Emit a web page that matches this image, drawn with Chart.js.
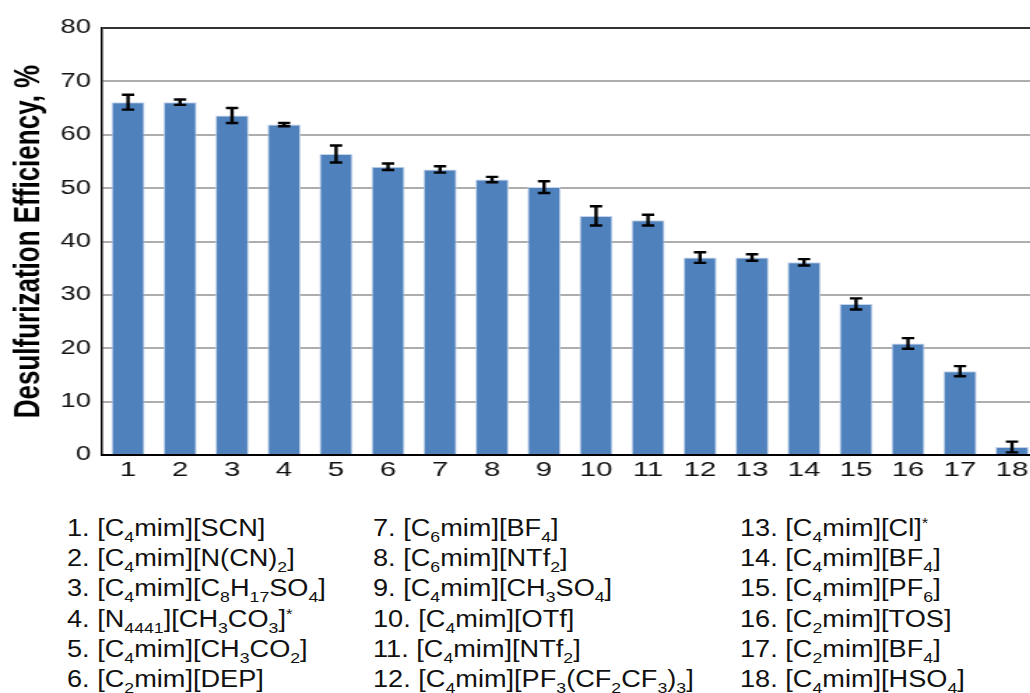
<!DOCTYPE html>
<html>
<head>
<meta charset="utf-8">
<script src="https://cdn.jsdelivr.net/npm/chart.js@4/dist/chart.umd.min.js"></script>
<style>
  html, body { margin: 0; padding: 0; background: #fff; overflow: hidden; width: 1030px; height: 693px; }
  /* the chart is drawn narrow and widened, giving the broad lettering of the figure */
  #wrap { position: absolute; left: 0; top: 0; width: 744px; height: 495px;
          transform: scaleX(1.3978); transform-origin: 0 0; }
  .col { position: absolute; top: 513px; font-family: "Liberation Sans", Arial, Helvetica, sans-serif;
         font-size: 23px; line-height: 30.2px; color: #111; white-space: nowrap;
         transform: scaleX(1.18); transform-origin: 0 0; }
  .col sub { font-size: 15px; line-height: 0; vertical-align: -6px; }
  .col sup { font-size: 14px; line-height: 0; vertical-align: 8px; }
</style>
</head>
<body>
<div id="wrap"><canvas id="chart" width="744" height="495"></canvas></div>
<div id="legend"></div>
<script>
// Sample numbers shown along the category axis
const labels = ['1','2','3','4','5','6','7','8','9','10','11','12','13','14','15','16','17','18'];

// Desulfurization efficiency (%) for each ionic liquid
const efficiency = [66.1, 66.1, 63.6, 61.9, 56.4, 54.0, 53.5, 51.6, 50.2, 44.8, 44.0, 37.0, 37.0, 36.1, 28.3, 20.9, 15.7, 1.5];

// Error bar half-widths (%)
const errors = [1.4, 0.5, 1.4, 0.3, 1.6, 0.6, 0.6, 0.5, 1.1, 1.8, 1.0, 1.0, 0.6, 0.6, 1.05, 1.0, 0.95, 1.0];

// Value-axis range and tick step
const yMin = 0, yMax = 80, yStep = 10;

// Ionic liquid names; _{..} marks a subscript, ^{..} a superscript
const ionicLiquids = [
  '[C_{4}mim][SCN]',
  '[C_{4}mim][N(CN)_{2}]',
  '[C_{4}mim][C_{8}H_{17}SO_{4}]',
  '[N_{4441}][CH_{3}CO_{3}]^{*}',
  '[C_{4}mim][CH_{3}CO_{2}]',
  '[C_{2}mim][DEP]',
  '[C_{6}mim][BF_{4}]',
  '[C_{6}mim][NTf_{2}]',
  '[C_{4}mim][CH_{3}SO_{4}]',
  '[C_{4}mim][OTf]',
  '[C_{4}mim][NTf_{2}]',
  '[C_{4}mim][PF_{3}(CF_{2}CF_{3})_{3}]',
  '[C_{4}mim][Cl]^{*}',
  '[C_{4}mim][BF_{4}]',
  '[C_{4}mim][PF_{6}]',
  '[C_{2}mim][TOS]',
  '[C_{2}mim][BF_{4}]',
  '[C_{4}mim][HSO_{4}]'
];

// Key listing below the chart: three columns of six entries
function toMarkup(s) {
  return s.replace(/_\{([^}]*)\}/g, '<sub>$1</sub>').replace(/\^\{([^}]*)\}/g, '<sup>$1</sup>');
}
const colLeft = [67, 373, 740];
const legend = document.getElementById('legend');
for (let c = 0; c < 3; c++) {
  const div = document.createElement('div');
  div.className = 'col';
  div.style.left = colLeft[c] + 'px';
  const rows = [];
  for (let r = 0; r < 6; r++) {
    const i = c * 6 + r;
    rows.push(labels[i] + '. ' + toMarkup(ionicLiquids[i]));
  }
  div.innerHTML = rows.join('<br>');
  legend.appendChild(div);
}

// Draws the black error bars with caps on top of each bar
const errorBars = {
  id: 'errorBars',
  afterDatasetsDraw(chart) {
    const ctx = chart.ctx;
    const y = chart.scales.y;
    const meta = chart.getDatasetMeta(0);
    ctx.save();
    ctx.strokeStyle = '#000';
    ctx.lineWidth = 2.4;
    ctx.lineCap = 'butt';
    meta.data.forEach((bar, i) => {
      const v = efficiency[i], e = errors[i];
      const yHi = y.getPixelForValue(v + e);
      const yLo = y.getPixelForValue(v - e);
      const x = bar.x, cap = 4.4;
      ctx.beginPath();
      ctx.moveTo(x, yHi); ctx.lineTo(x, yLo);
      ctx.moveTo(x - cap, yHi); ctx.lineTo(x + cap, yHi);
      ctx.moveTo(x - cap, yLo); ctx.lineTo(x + cap, yLo);
      ctx.stroke();
    });
    ctx.restore();
  }
};

const font = "'Liberation Sans', Arial, Helvetica, sans-serif";

new Chart(document.getElementById('chart'), {
  type: 'bar',
  data: {
    labels: labels,
    datasets: [{
      data: efficiency,
      backgroundColor: '#4F81BD',
      borderColor: '#c3d3e9',
      borderWidth: 1,
      categoryPercentage: 1.0,
      barPercentage: 0.64
    }]
  },
  options: {
    responsive: false,
    animation: false,
    events: [],
    layout: { padding: { top: 28, right: 1.4, left: 0, bottom: 0 } },
    plugins: { legend: { display: false }, tooltip: { enabled: false } },
    scales: {
      x: {
        grid: { display: false, drawTicks: false },
        border: { display: true, color: '#000', width: 2 },
        ticks: { color: '#111', font: { family: font, size: 21 }, padding: 3, maxRotation: 0 },
        afterFit(scale) { scale.height = 40; }
      },
      y: {
        min: yMin, max: yMax,
        grid: {
          drawTicks: false,
          lineWidth: 2,
          color: ctx => (ctx.tick && ctx.tick.value === yMax) ? '#333' : '#adadad'
        },
        border: { display: true, color: '#000', width: 1.5 },
        ticks: { stepSize: yStep, color: '#111', font: { family: font, size: 19.5 }, padding: 8 },
        title: {
          display: true,
          text: 'Desulfurization Efficiency, %',
          color: '#000',
          font: { family: font, size: 26, weight: 'bold' },
          padding: { top: 5.5, bottom: 0 }
        },
        afterFit(scale) { scale.width = 73; }
      }
    }
  },
  plugins: [errorBars]
});
</script>
</body>
</html>
